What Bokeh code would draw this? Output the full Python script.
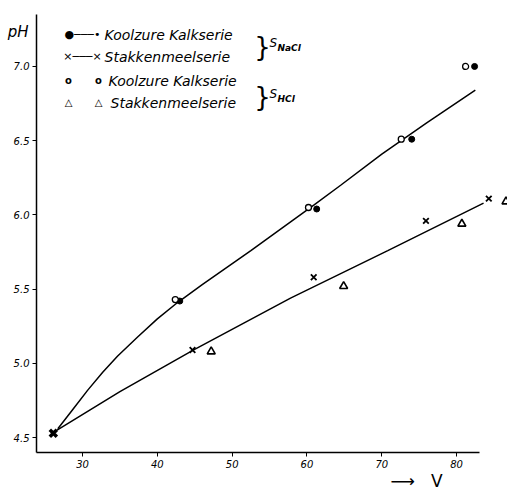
from bokeh.plotting import figure
from bokeh.models import Range1d, Label, FixedTicker, LinearAxis, Title
from bokeh.embed import file_html
from bokeh.resources import INLINE

# ---- data ----
start_V = [26.1]
start_pH = [4.53]

kalk_nacl_V = [43.0, 61.3, 74.0, 82.4]
kalk_nacl_pH = [5.42, 6.04, 6.51, 7.00]
slak_nacl_V = [44.7, 60.9, 75.9, 84.3]
slak_nacl_pH = [5.09, 5.58, 5.96, 6.11]
kalk_hcl_V = [42.4, 60.2, 72.6, 81.2]
kalk_hcl_pH = [5.43, 6.05, 6.51, 7.00]
slak_hcl_V = [47.2, 64.9, 80.7, 86.6]
slak_hcl_pH = [5.08, 5.52, 5.94, 6.09]

kalk_curve_V = [26.7, 28.7, 30.7, 32.7, 34.7, 37.4, 40.0, 42.7, 46.0, 52.5, 61.0, 64.5, 70.0, 76.0, 82.5]
kalk_curve_pH = [4.56, 4.69, 4.82, 4.94, 5.05, 5.18, 5.30, 5.41, 5.53, 5.76, 6.07, 6.20, 6.41, 6.62, 6.84]
slak_curve_V = [26.6, 35.0, 44.8, 57.8, 70.8, 83.6]
slak_curve_pH = [4.55, 4.81, 5.09, 5.44, 5.76, 6.08]

x_ticks = [30, 40, 50, 60, 70, 80]
x_tick_labels = ["30", "40", "50", "60", "70", "80"]
y_ticks = [4.5, 5.0, 5.5, 6.0, 6.5, 7.0]
y_tick_labels = ["4.5", "5.0", "5.5", "6.0", "6.5", "7.0"]

y_title = "pH"
x_title = "\u27f6\u00a0\u00a0\u00a0V"
legend_rows = ["Koolzure Kalkserie", "Stakkenmeelserie", "Koolzure Kalkserie", "Stakkenmeelserie"]

# ---- layout ----
W, H = 507, 489
L, R, T, B = 36, 0, 14, 37
FONT = "DejaVu Sans"

p = figure(width=W, height=H, output_backend="svg", toolbar_location=None,
           x_range=Range1d(23.85, 86.8), y_range=Range1d(4.40, 7.35),
           min_border_left=L, min_border_right=R, min_border_top=T, min_border_bottom=B)
p.outline_line_color = None
p.grid.visible = False
p.background_fill_color = "white"
p.border_fill_color = "white"

for ax in (p.xaxis[0], p.yaxis[0]):
    ax.axis_line_color = "black"
    ax.axis_line_width = 1.5
    ax.major_tick_line_color = "black"
    ax.major_tick_line_width = 1
    ax.minor_tick_line_color = None
    ax.major_tick_in = 0
    ax.major_tick_out = 4
    ax.major_label_text_font = FONT
    ax.major_label_text_font_style = "italic"
    ax.major_label_text_font_size = "10px"
    ax.major_label_text_color = "black"

p.xaxis[0].ticker = FixedTicker(ticks=x_ticks)
p.xaxis[0].major_label_overrides = dict(zip(x_ticks, x_tick_labels))
p.xaxis[0].bounds = (23.85, 83.0)
p.xaxis[0].major_label_standoff = 3
p.yaxis[0].ticker = FixedTicker(ticks=y_ticks)
p.yaxis[0].major_label_overrides = dict(zip(y_ticks, y_tick_labels))
p.yaxis[0].major_label_standoff = 3

# "pH" written beside the top of the y axis (a label-only axis)
ph_pos = 7.23
ph_axis = LinearAxis(ticker=FixedTicker(ticks=[ph_pos]), major_label_overrides={ph_pos: y_title},
                     axis_line_color=None, major_tick_line_color=None, minor_tick_line_color=None,
                     major_tick_in=0, major_tick_out=0, major_label_standoff=-18,
                     major_label_text_font=FONT, major_label_text_font_style="italic",
                     major_label_text_font_size="15px", major_label_text_color="black")
p.add_layout(ph_axis, "left")

# "-> V" under the x axis, to the right
p.add_layout(Title(text=x_title, align="left", offset=354, standoff=-4, text_font=FONT,
                   text_font_size="17px", text_font_style="normal", text_color="black"), "below")

# curves
p.line(kalk_curve_V, kalk_curve_pH, line_color="black", line_width=1.5)
p.line(slak_curve_V, slak_curve_pH, line_color="black", line_width=1.5)

# points
p.scatter(kalk_nacl_V, kalk_nacl_pH, marker="circle", size=6, fill_color="black", line_color="black")
p.scatter(kalk_hcl_V, kalk_hcl_pH, marker="circle", size=6, fill_color="white", line_color="black", line_width=1.3)
p.scatter(slak_nacl_V, slak_nacl_pH, marker="x", size=8, line_color="black", line_width=1.8)
p.scatter(slak_hcl_V, slak_hcl_pH, marker="triangle", size=8, fill_color="white", line_color="black", line_width=1.6)
p.scatter(start_V, start_pH, marker="x", size=10, line_color="black", line_width=3.5)


def sx(px):
    return px - L


def sy(py):
    return (H - B) - py


def lab(text, px, py, size, style="italic", align="left", baseline="middle", font=FONT):
    p.add_layout(Label(x=sx(px), y=sy(py), x_units="screen", y_units="screen", text=text,
                       text_font=font, text_font_size=size, text_font_style=style,
                       text_color="black", text_align=align, text_baseline=baseline))


# legend
row_y = [34, 56, 80, 102]
lab("\u25cf\u2500\u2500\u2500\u2022", 82, row_y[0], "11px", style="normal", align="center")
lab("\u00d7\u2500\u2500\u2500\u00d7", 82, row_y[1], "11px", style="normal", align="center")
lab("o", 68, row_y[2], "10px", style="bold", align="center")
lab("o", 98, row_y[2], "10px", style="bold", align="center")
lab("\u25b3", 68, row_y[3], "10px", style="normal", align="center")
lab("\u25b3", 98, row_y[3], "10px", style="normal", align="center")
text_x = [104, 104, 108, 110]
for t, x0, y0 in zip(legend_rows, text_x, row_y):
    lab(t, x0, y0, "14px")

# braces
lab("}", 262, 46, "26px", style="normal", align="center")
lab("}", 262, 96, "26px", style="normal", align="center")
lab("S", 269, 42, "12px")
lab("NaCl", 277, 47, "9px", style="bold italic")
lab("S", 269, 93, "12px")
lab("HCl", 277, 98, "9px", style="bold italic")

open("out.html", "w").write(file_html(p, INLINE))
